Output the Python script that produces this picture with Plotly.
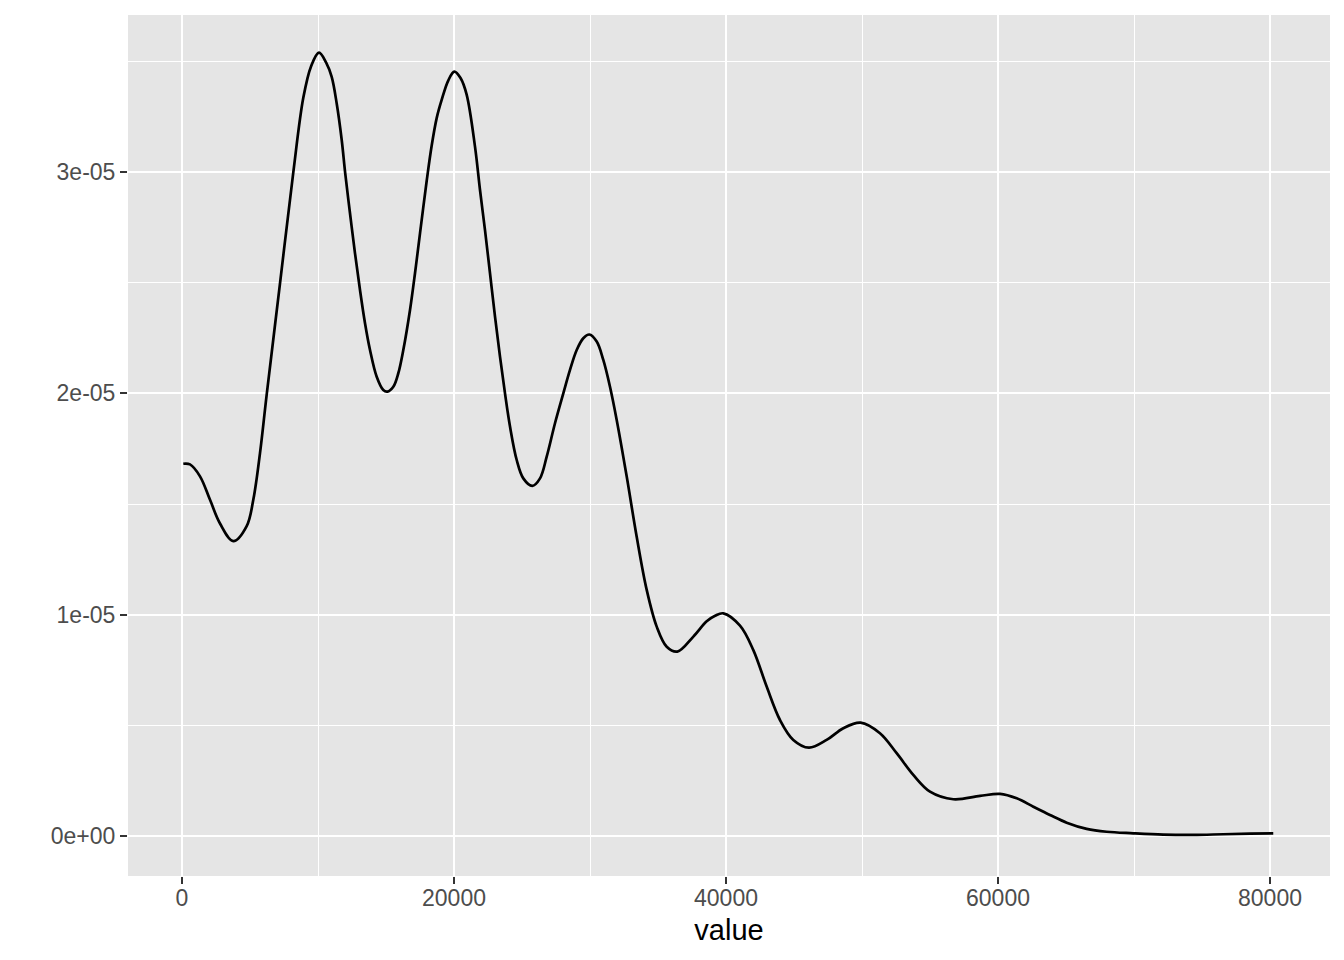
import plotly.graph_objects as go

# Density curve (x in value units, density in units of 1e-5)
value = [96, 588, 1324, 2059, 2794, 3775, 4755, 5245, 5735, 6225,
         7206, 8186, 8922, 9500, 10074, 10600, 11007, 11375, 11743, 12000,
         12353, 12721, 13088, 13456, 13824, 14316, 14801, 15096, 15537, 15904,
         16272, 16765, 17132, 17500, 17990, 18360, 18730, 19093, 19584, 20025,
         20480, 20930, 21544, 21912, 22279, 22647, 23015, 23382, 23750, 24118,
         24610, 25096, 25757, 26324, 26816, 27426, 28037, 28529, 29022, 29507,
         29950, 30493, 30978, 31470, 31963, 32700, 33434, 34170, 34904,
         35640, 36420, 37600, 38580, 39200, 39800, 41030, 42010, 42990, 43970,
         44950, 46100, 47400, 48625, 49900, 51320, 52550, 53770, 55000, 56715,
         58680, 60150, 61375, 62600, 63820, 65050, 66520, 67990, 69950, 72150,
         74360, 76570, 78530, 80240]
density_e5 = [1.682, 1.679, 1.625, 1.519, 1.412, 1.332, 1.40, 1.52, 1.73, 1.993,
              2.497, 3.0, 3.337, 3.48, 3.54, 3.495, 3.43, 3.31, 3.145, 2.995,
              2.814, 2.633, 2.467, 2.317, 2.196, 2.075, 2.015, 2.008, 2.030, 2.091,
              2.196, 2.377, 2.543, 2.723, 2.96, 3.12, 3.245, 3.326, 3.415, 3.454,
              3.425, 3.35, 3.115, 2.919, 2.738, 2.543, 2.347, 2.166, 2.0, 1.850,
              1.699, 1.616, 1.582, 1.616, 1.714, 1.865, 2.0, 2.106, 2.196, 2.249,
              2.266, 2.234, 2.151, 2.030, 1.880, 1.624, 1.352, 1.112, 0.946,
              0.855, 0.833, 0.901, 0.97, 0.995, 1.006, 0.95, 0.840, 0.675, 0.524,
              0.434, 0.399, 0.434, 0.487, 0.512, 0.464, 0.374, 0.276, 0.2, 0.166,
              0.181, 0.19, 0.17, 0.132, 0.095, 0.06, 0.032, 0.019, 0.012, 0.006,
              0.0045, 0.0077, 0.0104, 0.012]
density = [v * 1e-5 for v in density_e5]

x_ticks = [0, 20000, 40000, 60000, 80000]
x_ticklabels = ["0", "20000", "40000", "60000", "80000"]
x_minor = [10000, 30000, 50000, 70000]
y_ticks = [0, 1e-5, 2e-5, 3e-5]
y_ticklabels = ["0e+00", "1e-05", "2e-05", "3e-05"]
y_minor = [0.5e-5, 1.5e-5, 2.5e-5, 3.5e-5]

FONT = "Liberation Sans, Arial, Helvetica, sans-serif"

fig = go.Figure()
fig.add_trace(go.Scatter(
    x=value, y=density, mode="lines",
    line=dict(color="black", width=2.7, shape="spline", smoothing=1.0),
    showlegend=False, hoverinfo="skip",
))

fig.update_layout(
    width=1336, height=944,
    margin=dict(l=120, r=14, t=7, b=76),
    paper_bgcolor="white", plot_bgcolor="#E5E5E5",
    font=dict(family=FONT, color="#4D4D4D"),
    xaxis=dict(
        range=[-3971, 84412], tickmode="array", tickvals=x_ticks, ticktext=x_ticklabels,
        showgrid=True, gridcolor="white", gridwidth=2, zeroline=False, showline=False,
        ticks="outside", ticklen=7, tickwidth=2, tickcolor="#333333",
        ticklabelstandoff=-6,
        tickfont=dict(size=23, color="#4D4D4D", family=FONT),
        minor=dict(tickmode="array", tickvals=x_minor, showgrid=True, gridcolor="white", gridwidth=1, ticks=""),
        title=dict(text="value", font=dict(size=29, color="black", family=FONT), standoff=10),
        automargin=False,
    ),
    yaxis=dict(
        range=[-0.181e-5, 3.71e-5], tickmode="array", tickvals=y_ticks, ticktext=y_ticklabels,
        showgrid=True, gridcolor="white", gridwidth=2, zeroline=False, showline=False,
        ticks="outside", ticklen=7, tickwidth=2, tickcolor="#333333",
        tickfont=dict(size=23, color="#4D4D4D", family=FONT),
        minor=dict(tickmode="array", tickvals=y_minor, showgrid=True, gridcolor="white", gridwidth=1, ticks=""),
        automargin=False,
    ),
)

fig.write_html("out.html")
